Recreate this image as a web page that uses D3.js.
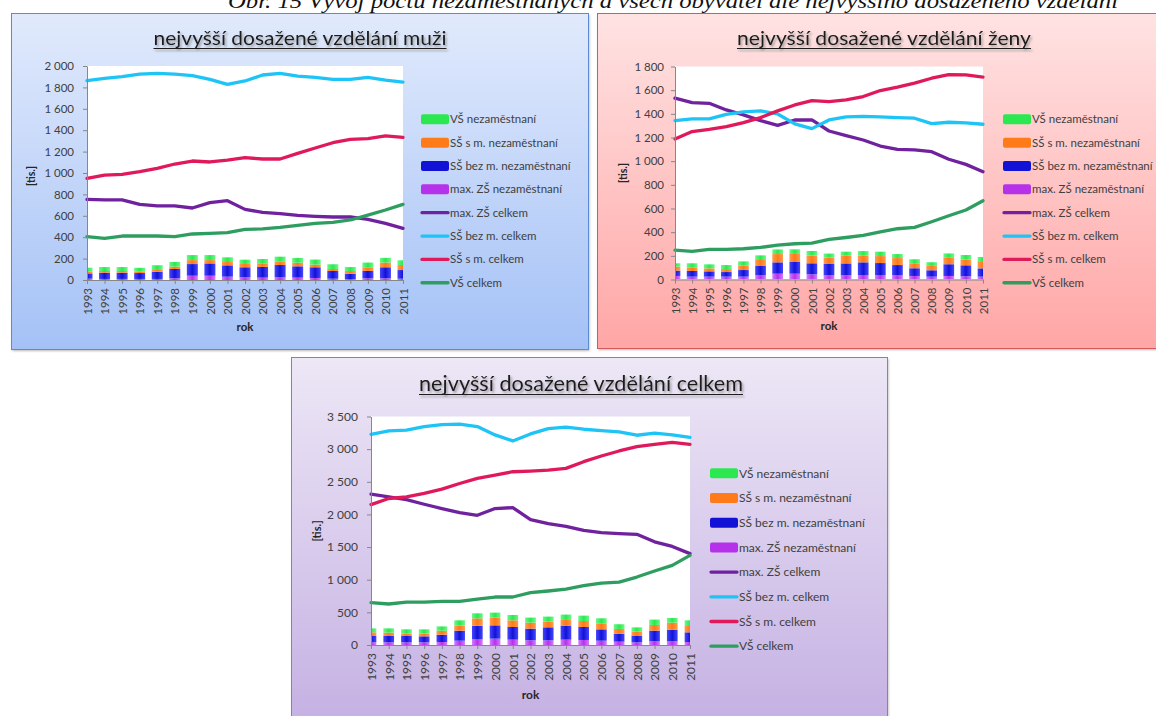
<!DOCTYPE html>
<html>
<head>
<meta charset="utf-8">
<script src="https://cdn.jsdelivr.net/npm/d3@7"></script>
<style>
body { margin: 0; background: #fff; }
svg { display: block; }
text { font-family: Lato, "Open Sans", sans-serif; }
</style>
</head>
<body>
<script>
var years = [1993, 1994, 1995, 1996, 1997, 1998, 1999, 2000, 2001, 2002,
             2003, 2004, 2005, 2006, 2007, 2008, 2009, 2010, 2011];

// muzi [tis.]
var muziZsNez       = [12, 10, 10, 10, 10, 16, 40, 40, 31, 25, 22, 25, 22, 19, 12, 9, 16, 16, 12];
var muziSsBezNez    = [50, 58, 58, 55, 68, 87, 109, 115, 106, 94, 100, 115, 106, 100, 72, 50, 69, 103, 81];
var muziSsSNez      = [19, 16, 16, 12, 16, 22, 37, 31, 31, 31, 34, 34, 34, 25, 19, 25, 34, 44, 47];
var muziVsNez       = [34, 37, 37, 37, 44, 44, 47, 47, 44, 40, 40, 44, 44, 47, 44, 37, 44, 44, 44];
var muziZsCelkem    = [754, 748, 748, 707, 692, 692, 673, 723, 741, 660, 632, 620, 604, 595, 589, 589, 567, 530, 483];
var muziSsBezCelkem = [1863, 1885, 1900, 1925, 1931, 1925, 1910, 1875, 1828, 1860, 1916, 1931, 1906, 1894, 1875, 1875, 1894, 1869, 1850];
var muziSsSCelkem   = [950, 981, 987, 1012, 1044, 1084, 1112, 1103, 1121, 1143, 1131, 1131, 1184, 1234, 1283, 1315, 1321, 1346, 1333];
var muziVsCelkem    = [405, 389, 411, 411, 411, 405, 430, 436, 442, 473, 477, 492, 511, 530, 539, 561, 607, 654, 707];

// zeny [tis.]
var zenyZsNez       = [30, 24, 24, 24, 24, 35, 49, 49, 44, 35, 35, 38, 38, 35, 30, 24, 30, 27, 24];
var zenySsBezNez    = [45, 48, 45, 39, 56, 79, 96, 99, 93, 96, 101, 107, 101, 87, 65, 54, 99, 93, 70];
var zenySsSNez      = [34, 31, 25, 25, 39, 51, 70, 68, 65, 54, 65, 56, 59, 59, 42, 37, 54, 48, 54];
var zenyVsNez       = [28, 34, 34, 34, 34, 39, 39, 39, 39, 34, 34, 39, 37, 34, 34, 31, 37, 39, 42];
var zenyZsCelkem    = [1532, 1495, 1489, 1433, 1391, 1343, 1303, 1348, 1348, 1255, 1216, 1179, 1128, 1100, 1095, 1080, 1016, 973, 911];
var zenySsBezCelkem = [1343, 1357, 1357, 1396, 1416, 1425, 1399, 1315, 1275, 1348, 1374, 1379, 1374, 1368, 1363, 1317, 1329, 1323, 1312];
var zenySsSCelkem   = [1188, 1250, 1269, 1292, 1326, 1368, 1425, 1475, 1512, 1504, 1518, 1546, 1597, 1625, 1659, 1701, 1732, 1729, 1710];
var zenyVsCelkem    = [248, 237, 254, 254, 260, 271, 291, 302, 307, 339, 355, 372, 403, 429, 440, 488, 539, 587, 666];

// celkem [tis.]
var celkemZsNez       = [41, 41, 41, 41, 46, 66, 92, 97, 82, 72, 72, 82, 77, 66, 51, 41, 56, 56, 46];
var celkemSsBezNez    = [97, 97, 97, 92, 112, 153, 204, 204, 194, 179, 199, 215, 199, 174, 123, 97, 164, 179, 148];
var celkemSsSNez      = [56, 51, 36, 41, 61, 77, 112, 118, 102, 92, 87, 87, 92, 92, 72, 66, 87, 107, 97];
var celkemVsNez       = [61, 66, 66, 66, 66, 82, 77, 77, 82, 77, 77, 82, 82, 77, 72, 66, 82, 72, 87];
var celkemZsCelkem    = [2310, 2269, 2228, 2156, 2090, 2028, 1987, 2090, 2105, 1921, 1859, 1818, 1756, 1720, 1705, 1695, 1580, 1510, 1400];
var celkemSsBezCelkem = [3228, 3279, 3290, 3346, 3377, 3382, 3346, 3218, 3126, 3233, 3315, 3336, 3305, 3285, 3264, 3213, 3244, 3218, 3182];
var celkemSsSCelkem   = [2151, 2244, 2269, 2321, 2387, 2474, 2551, 2603, 2654, 2664, 2679, 2705, 2808, 2895, 2972, 3038, 3074, 3105, 3074];
var celkemVsCelkem    = [648, 628, 658, 658, 668, 668, 704, 735, 735, 801, 827, 857, 908, 949, 964, 1041, 1133, 1219, 1372];

var ticksMuzi = [0, 200, 400, 600, 800, 1000, 1200, 1400, 1600, 1800, 2000];
var ticksZeny = [0, 200, 400, 600, 800, 1000, 1200, 1400, 1600, 1800];
var ticksCelkem = [0, 500, 1000, 1500, 2000, 2500, 3000, 3500];

var legendNames = ["VŠ nezaměstnaní", "SŠ s m. nezaměstnaní", "SŠ bez m. nezaměstnaní", "max. ZŠ nezaměstnaní",
                   "max. ZŠ celkem", "SŠ bez m. celkem", "SŠ s m. celkem", "VŠ celkem"];

var figTitle = "Obr. 15 Vývoj počtu nezaměstnaných a všech obyvatel dle nejvyššího dosaženého vzdělání";

// styles
var barKeys = ["zs", "ssBez", "ssS", "vs"];
var barColors = {
  zs:    ["#d57cff", "#b532ea"],
  ssBez: ["#4646ff", "#1212d6"],
  ssS:   ["#ff9c4c", "#ff7a18"],
  vs:    ["#6af889", "#2ce850"]
};
var lineKeys = ["zsC", "ssBezC", "ssSC", "vsC"];
var lineColors = { zsC: "#70229e", ssBezC: "#1ec4f6", ssSC: "#e01a5a", vsC: "#2e9d60" };
var legendKeys = ["vs", "ssS", "ssBez", "zs", "zsC", "ssBezC", "ssSC", "vsC"];

var fmt = d3.formatLocale({decimal: ",", thousands: " ", grouping: [3], currency: ["", ""]}).format(",d");

var svg = d3.select("body").append("svg").attr("width", 1156).attr("height", 716);
var defs = svg.append("defs");

barKeys.forEach(function(k) {
  var gr = defs.append("linearGradient").attr("id", "bar_" + k)
    .attr("x1", 0).attr("x2", 1).attr("y1", 0).attr("y2", 0);
  gr.append("stop").attr("offset", "0%").attr("stop-color", barColors[k][0]);
  gr.append("stop").attr("offset", "50%").attr("stop-color", barColors[k][1]);
  gr.append("stop").attr("offset", "100%").attr("stop-color", barColors[k][0]);
});

var shadow = defs.append("filter").attr("id", "titleShadow")
  .attr("x", "-5%").attr("y", "-30%").attr("width", "110%").attr("height", "160%");
shadow.append("feDropShadow").attr("dx", 1.5).attr("dy", 2).attr("stdDeviation", 0.8)
  .attr("flood-color", "#777").attr("flood-opacity", 0.7);

var boxShadow = defs.append("filter").attr("id", "boxShadow");
boxShadow.append("feGaussianBlur").attr("stdDeviation", 1.2);

// figure caption, cut at top as in the scan
svg.append("text")
  .attr("x", 228).attr("y", 8)
  .attr("textLength", 890).attr("lengthAdjust", "spacingAndGlyphs")
  .style("font-family", "'Liberation Serif', 'DejaVu Serif', serif")
  .style("font-style", "italic")
  .style("font-size", "22px")
  .attr("fill", "#111")
  .text(figTitle);

var panels = [
  {
    id: "m", title: "nejvyšší dosažené vzdělání muži",
    box: [11, 13, 588, 349], bg: ["#e1eafc", "#a4c1f6"], stroke: "#5b8bd2",
    titleX: 300, titleY: 45, titleSize: 19, titleLen: 293,
    xr: [87, 403], yr: [280, 66], yMax: 2000, ticks: ticksMuzi,
    fontSize: 11.5, tickPad: 9, bw: 11,
    leg: {x: 421, y: 119.3, step: 23.35, size: 11.5},
    tis: [31, 176], rok: [245, 327],
    zs: muziZsNez, ssBez: muziSsBezNez, ssS: muziSsSNez, vs: muziVsNez,
    zsC: muziZsCelkem, ssBezC: muziSsBezCelkem, ssSC: muziSsSCelkem, vsC: muziVsCelkem
  },
  {
    id: "z", title: "nejvyšší dosažené vzdělání ženy",
    box: [597, 13, 1175, 348], bg: ["#ffe3e3", "#ffa6a6"], stroke: "#d25a5a",
    titleX: 884, titleY: 45, titleSize: 19, titleLen: 294,
    xr: [675, 983], yr: [279.5, 66.5], yMax: 1800, ticks: ticksZeny,
    fontSize: 11.5, tickPad: 7, bw: 10.7,
    leg: {x: 1003, y: 119.3, step: 23.35, size: 11.5},
    tis: [623, 173], rok: [829, 326],
    zs: zenyZsNez, ssBez: zenySsBezNez, ssS: zenySsSNez, vs: zenyVsNez,
    zsC: zenyZsCelkem, ssBezC: zenySsBezCelkem, ssSC: zenySsSCelkem, vsC: zenyVsCelkem
  },
  {
    id: "c", title: "nejvyšší dosažené vzdělání celkem",
    box: [291, 357, 887, 740], bg: ["#ede7f6", "#c3aee2"], stroke: "#9279b8",
    titleX: 581, titleY: 391, titleSize: 22, titleLen: 324,
    xr: [371, 690], yr: [645, 416.5], yMax: 3500, ticks: ticksCelkem,
    fontSize: 12, tickPad: 9, bw: 10.7,
    leg: {x: 710, y: 473.3, step: 24.7, size: 12},
    tis: [317, 531], rok: [530.5, 695],
    zs: celkemZsNez, ssBez: celkemSsBezNez, ssS: celkemSsSNez, vs: celkemVsNez,
    zsC: celkemZsCelkem, ssBezC: celkemSsBezCelkem, ssSC: celkemSsSCelkem, vsC: celkemVsCelkem
  }
];

panels.forEach(drawPanel);

function drawPanel(p) {
  var g = svg.append("g");
  var bx = p.box[0], by = p.box[1], bwid = p.box[2] - p.box[0], bhei = p.box[3] - p.box[1];

  var bg = defs.append("linearGradient").attr("id", "bg_" + p.id)
    .attr("x1", 0).attr("x2", 0).attr("y1", 0).attr("y2", 1);
  bg.append("stop").attr("offset", "0%").attr("stop-color", p.bg[0]);
  bg.append("stop").attr("offset", "100%").attr("stop-color", p.bg[1]);

  g.append("rect")
    .attr("x", bx + 1.5).attr("y", by + 2).attr("width", bwid).attr("height", bhei)
    .attr("fill", "#808080").attr("opacity", 0.55).attr("filter", "url(#boxShadow)");
  g.append("rect")
    .attr("x", bx + 0.5).attr("y", by + 0.5).attr("width", bwid).attr("height", bhei)
    .attr("fill", "url(#bg_" + p.id + ")").attr("stroke", p.stroke);

  // title
  var tg = g.append("g").attr("filter", "url(#titleShadow)");
  tg.append("text")
    .attr("x", p.titleX).attr("y", p.titleY)
    .attr("text-anchor", "middle")
    .attr("textLength", p.titleLen).attr("lengthAdjust", "spacingAndGlyphs")
    .style("font-size", p.titleSize + "px")
    .attr("fill", "#1a1a1a")
    .text(p.title);
  tg.append("line")
    .attr("x1", p.titleX - p.titleLen / 2).attr("x2", p.titleX + p.titleLen / 2)
    .attr("y1", p.titleY + 3.5).attr("y2", p.titleY + 3.5)
    .attr("stroke", "#1a1a1a").attr("stroke-width", 1);

  var x = d3.scalePoint().domain(years).range(p.xr);
  var y = d3.scaleLinear().domain([0, p.yMax]).range(p.yr);

  // plot area
  g.append("rect")
    .attr("x", p.xr[0]).attr("y", p.yr[1])
    .attr("width", p.xr[1] - p.xr[0]).attr("height", p.yr[0] - p.yr[1])
    .attr("fill", "#fff");

  defs.append("clipPath").attr("id", "clip_" + p.id)
    .append("rect")
    .attr("x", p.xr[0]).attr("y", p.yr[1] - 5)
    .attr("width", p.xr[1] - p.xr[0]).attr("height", p.yr[0] - p.yr[1] + 5);

  // stacked bars
  var rows = years.map(function(yr, i) {
    var r = {year: yr};
    barKeys.forEach(function(k) { r[k] = p[k][i]; });
    return r;
  });
  var stacked = d3.stack().keys(barKeys)(rows);

  var barG = g.append("g").attr("clip-path", "url(#clip_" + p.id + ")");
  barG.selectAll("g.layer")
    .data(stacked)
    .enter()
    .append("g")
    .attr("fill", function(d) { return "url(#bar_" + d.key + ")"; })
    .selectAll("rect")
    .data(function(d) { return d; })
    .enter()
    .append("rect")
    .attr("x", function(d) { return x(d.data.year) - p.bw / 2; })
    .attr("y", function(d) { return y(d[1]); })
    .attr("width", p.bw)
    .attr("height", function(d) { return y(d[0]) - y(d[1]); });

  // lines
  var line = d3.line()
    .x(function(d, i) { return x(years[i]); })
    .y(function(d) { return y(d); });

  lineKeys.forEach(function(k) {
    g.append("path")
      .datum(p[k])
      .attr("d", line)
      .attr("fill", "none")
      .attr("stroke", lineColors[k])
      .attr("stroke-width", 3.3)
      .attr("stroke-linejoin", "round")
      .attr("stroke-linecap", "round");
  });

  // axes
  var yAxis = g.append("g")
    .attr("transform", "translate(" + p.xr[0] + ",0)")
    .call(d3.axisLeft(y).tickValues(p.ticks).tickSize(4).tickSizeOuter(0)
      .tickPadding(p.tickPad).tickFormat(fmt));
  var xAxis = g.append("g")
    .attr("transform", "translate(0," + p.yr[0] + ")")
    .call(d3.axisBottom(x).tickSize(4).tickSizeOuter(0));

  [yAxis, xAxis].forEach(function(a) {
    a.attr("font-family", null).attr("font-size", null);
    a.select(".domain").attr("stroke", "#878787");
    a.selectAll(".tick line").attr("stroke", "#878787");
    a.selectAll(".tick text").attr("fill", "#404040").style("font-size", p.fontSize + "px");
  });
  xAxis.selectAll(".tick text")
    .attr("transform", "rotate(-90)")
    .attr("text-anchor", "end")
    .attr("x", -8)
    .attr("y", 0)
    .attr("dy", "0.36em");

  g.append("text")
    .attr("transform", "translate(" + p.tis[0] + "," + p.tis[1] + ") rotate(-90)")
    .attr("text-anchor", "middle")
    .attr("dy", "0.35em")
    .style("font-size", (p.fontSize - 1) + "px")
    .style("font-weight", "bold")
    .attr("fill", "#262626")
    .text("[tis.]");

  g.append("text")
    .attr("x", p.rok[0]).attr("y", p.rok[1])
    .attr("text-anchor", "middle")
    .attr("dy", "0.35em")
    .style("font-size", p.fontSize + "px")
    .style("font-weight", "bold")
    .attr("fill", "#262626")
    .text("rok");

  // legend
  var leg = g.append("g");
  legendKeys.forEach(function(k, i) {
    var ly = p.leg.y + i * p.leg.step;
    if (barColors[k]) {
      leg.append("rect")
        .attr("x", p.leg.x).attr("y", ly - 5)
        .attr("width", 28).attr("height", 10).attr("rx", 2)
        .attr("fill", barColors[k][1]);
    } else {
      leg.append("line")
        .attr("x1", p.leg.x + 1).attr("x2", p.leg.x + 27)
        .attr("y1", ly).attr("y2", ly)
        .attr("stroke", lineColors[k]).attr("stroke-width", 3.3)
        .attr("stroke-linecap", "round");
    }
    leg.append("text")
      .attr("x", p.leg.x + 29).attr("y", ly)
      .attr("dy", "0.35em")
      .style("font-size", p.leg.size + "px")
      .attr("fill", "#404040")
      .text(legendNames[i]);
  });
}
</script>
</body>
</html>
